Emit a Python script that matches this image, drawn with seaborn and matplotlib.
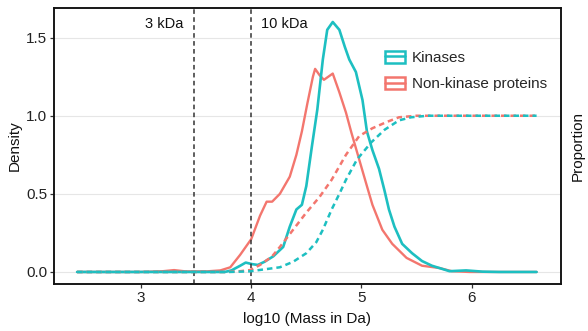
import matplotlib
matplotlib.use("Agg")
import matplotlib.pyplot as plt
from matplotlib.patches import Patch
from matplotlib.lines import Line2D
from matplotlib.legend_handler import HandlerTuple
import seaborn as sns

# Density curves (x = log10 mass in Da)
kin_x = [2.42, 3.76, 3.82, 3.90, 3.95, 4.01, 4.06, 4.12, 4.20, 4.29, 4.35, 4.41,
         4.46, 4.50, 4.55, 4.60, 4.65, 4.69, 4.74, 4.80, 4.85, 4.89, 4.95, 5.01,
         5.05, 5.10, 5.16, 5.21, 5.25, 5.30, 5.37, 5.46, 5.55, 5.64, 5.80, 5.95,
         6.10, 6.25, 6.59]
kin_density = [0, 0, 0.01, 0.04, 0.06, 0.05, 0.045, 0.065, 0.10, 0.16, 0.29, 0.40,
               0.43, 0.55, 0.80, 1.04, 1.36, 1.55, 1.60, 1.55, 1.44, 1.36, 1.28, 1.10,
               0.90, 0.78, 0.66, 0.52, 0.40, 0.29, 0.18, 0.12, 0.07, 0.04, 0.005, 0.01,
               0.002, 0, 0]

non_x = [2.42, 3.00, 3.20, 3.30, 3.40, 3.60, 3.72, 3.81, 3.90, 4.00, 4.08, 4.14,
         4.19, 4.26, 4.35, 4.41, 4.46, 4.51, 4.56, 4.58, 4.62, 4.66, 4.70, 4.74,
         4.80, 4.86, 4.91, 4.98, 5.05, 5.10, 5.19, 5.28, 5.41, 5.55, 5.71, 5.82,
         5.98, 6.59]
non_density = [0, 0, 0.005, 0.012, 0.004, 0.004, 0.01, 0.03, 0.11, 0.21, 0.36, 0.45,
               0.45, 0.50, 0.61, 0.75, 0.90, 1.08, 1.25, 1.30, 1.26, 1.23, 1.25, 1.27,
               1.15, 1.02, 0.89, 0.72, 0.55, 0.43, 0.27, 0.18, 0.09, 0.04, 0.025, 0.005,
               0, 0]

# Cumulative proportions (dashed)
kin_cdf_x = [2.42, 3.80, 3.99, 4.08, 4.26, 4.38, 4.50, 4.59, 4.65, 4.73, 4.80,
             4.86, 4.96, 5.09, 5.21, 5.34, 5.45, 5.60, 6.59]
kin_cdf = [0, 0, 0.004, 0.013, 0.03, 0.065, 0.12, 0.19, 0.27, 0.40, 0.50,
           0.59, 0.72, 0.83, 0.91, 0.97, 0.99, 1.0, 1.0]

non_cdf_x = [2.42, 3.75, 3.90, 3.99, 4.08, 4.19, 4.26, 4.38, 4.50, 4.62, 4.73,
             4.86, 4.98, 5.10, 5.23, 5.34, 5.50, 6.59]
non_cdf = [0, 0, 0.005, 0.012, 0.045, 0.10, 0.16, 0.27, 0.38, 0.48, 0.59,
           0.75, 0.87, 0.92, 0.96, 0.99, 1.0, 1.0]

cutoffs = [3.477, 4.0]
cutoff_labels = ["3 kDa", "10 kDa"]

groups = ["Kinases", "Non-kinase proteins"]
colors = {"Kinases": "#1DBFC1", "Non-kinase proteins": "#F3766E"}

sns.set_theme(style="white")
plt.rcParams["font.family"] = ["Liberation Sans", "DejaVu Sans"]
plt.rcParams["font.size"] = 11

fig = plt.figure(figsize=(5.88, 3.31), dpi=100)
ax = fig.add_axes([0.0918, 0.142, 0.862, 0.834])
ax2 = ax.twinx()

# horizontal grid only
for yv in [0, 0.5, 1.0, 1.5]:
    ax.axhline(yv, color="#E6E6E6", lw=0.8, zorder=0)

dash = (0, (2.2, 1.6))
sns.lineplot(x=non_cdf_x, y=non_cdf, color=colors["Non-kinase proteins"], lw=1.8,
             linestyle=dash, ax=ax2)
sns.lineplot(x=kin_cdf_x, y=kin_cdf, color=colors["Kinases"], lw=1.8,
             linestyle=dash, ax=ax2)
sns.lineplot(x=non_x, y=non_density, color=colors["Non-kinase proteins"], lw=1.7, ax=ax)
sns.lineplot(x=kin_x, y=kin_density, color=colors["Kinases"], lw=1.9, ax=ax)

for xv in cutoffs:
    ax.axvline(xv, color="#333333", lw=1.1, linestyle=(0, (3, 2.2)), zorder=3)
ax.text(cutoffs[0] - 0.09, 1.59, cutoff_labels[0], ha="right", va="center",
        fontsize=10.5, color="#111111")
ax.text(cutoffs[1] + 0.09, 1.59, cutoff_labels[1], ha="left", va="center",
        fontsize=10.5, color="#111111")

ylim = (-0.077, 1.69)
xlim = (2.21, 6.81)
ax.set_xlim(xlim)
ax.set_ylim(ylim)
ax2.set_ylim(ylim)
ax.set_xticks([3, 4, 5, 6])
ax.set_yticks([0.0, 0.5, 1.0, 1.5])
ax.set_yticklabels(["0.0", "0.5", "1.0", "1.5"])
ax2.set_yticks([])
ax.tick_params(axis="both", which="both", direction="out", length=3, width=0.9,
               color="#333333", labelsize=11, labelcolor="#222222", pad=2,
               left=True, bottom=True)
ax.set_xlabel("log10 (Mass in Da)", fontsize=11, color="#111111", labelpad=5)
ax.set_ylabel("Density", fontsize=11, color="#111111", labelpad=3)
ax2.set_ylabel("Proportion", fontsize=11, color="#111111", labelpad=7)

for a in (ax, ax2):
    for s in a.spines.values():
        s.set_color("#111111")
        s.set_linewidth(1.1)

handles = [(Patch(facecolor="white", edgecolor=colors[g], lw=1.8),
            Line2D([], [], color=colors[g], lw=1.8)) for g in groups]
leg = ax.legend(handles, groups, loc="upper left", bbox_to_anchor=(0.626, 0.895),
                frameon=False, fontsize=11, handlelength=1.3, handleheight=0.9,
                handletextpad=0.45, labelspacing=0.75,
                handler_map={tuple: HandlerTuple(ndivide=1)})

fig.savefig("out.png", dpi=100)
